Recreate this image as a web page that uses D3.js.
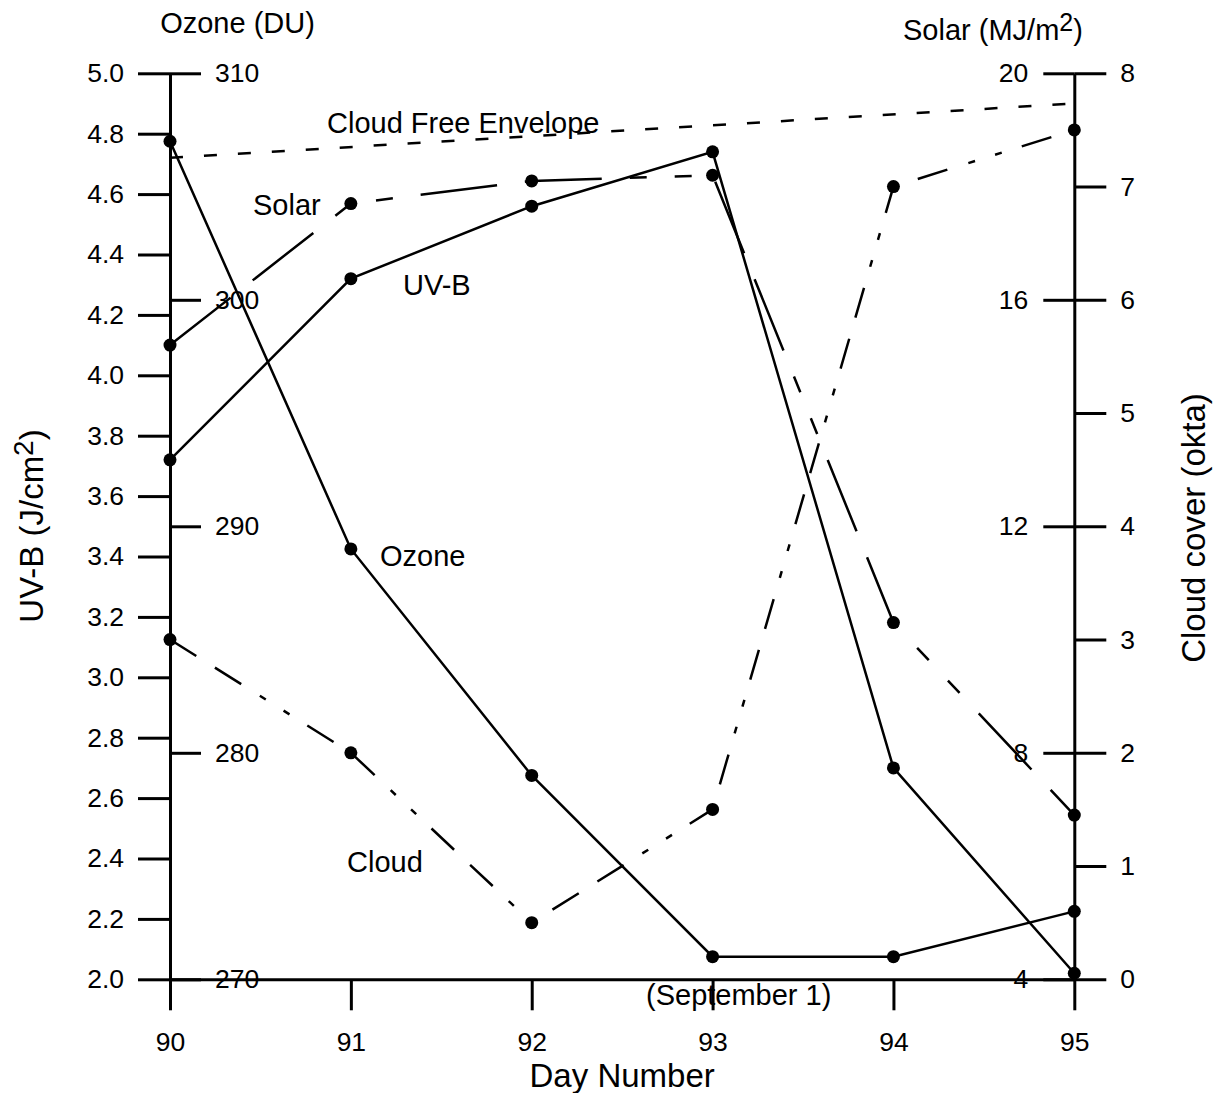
<!DOCTYPE html>
<html>
<head>
<meta charset="utf-8">
<script src="https://cdn.jsdelivr.net/npm/d3@7"></script>
<style>
  html, body { margin: 0; padding: 0; background: #fff; }
  svg { display: block; font-family: "Liberation Sans", Arial, Helvetica, sans-serif; }
</style>
</head>
<body>
<svg id="chart" width="1221" height="1093"></svg>
<script>
// ---- data ----
const days = [90, 91, 92, 93, 94, 95];
const uvb = [3.72, 4.32, 4.56, 4.74, 2.70, 2.02];
const ozone = [307, 289, 279, 271, 271, 273];
const solar = [15.2, 17.7, 18.1, 18.2, 10.3, 6.9];
const cloud = [3.0, 2.0, 0.5, 1.5, 7.0, 7.5];
const envelopeDays = [90, 95];
const envelopeUVB = [4.72, 4.90];

// ---- tick labels ----
const dayTicks = [90, 91, 92, 93, 94, 95];
const uvbTicks = [2.0, 2.2, 2.4, 2.6, 2.8, 3.0, 3.2, 3.4, 3.6, 3.8, 4.0, 4.2, 4.4, 4.6, 4.8, 5.0];
const ozoneTicks = [270, 280, 290, 300, 310];
const solarTicks = [4, 8, 12, 16, 20];
const cloudTicks = [0, 1, 2, 3, 4, 5, 6, 7, 8];

// ---- layout ----
const L = 170, R = 1074.3, T = 73.3, B = 979.3;
const svg = d3.select("#chart");

const x = d3.scaleLinear().domain([90, 95]).range([L, R]);
const yU = d3.scaleLinear().domain([2, 5]).range([B, T]);
const yO = d3.scaleLinear().domain([270, 310]).range([B, T]);
const yS = d3.scaleLinear().domain([4, 20]).range([B, T]);
const yC = d3.scaleLinear().domain([0, 8]).range([B, T]);

function styleAxis(g, size) {
  g.attr("font-family", null).attr("font-size", null);
  g.selectAll("path, line").attr("stroke", "#000").attr("stroke-width", 3);
  g.selectAll("text").attr("fill", "#000").style("font-size", size + "px");
}

// X axis
svg.append("g").attr("transform", `translate(0,${B})`)
  .call(d3.axisBottom(x).tickValues(dayTicks).tickFormat(d3.format("d"))
    .tickSize(31).tickSizeOuter(0).tickPadding(22))
  .call(g => styleAxis(g, 26.5));

// Left UV-B axis
svg.append("g").attr("transform", `translate(${L},0)`)
  .call(d3.axisLeft(yU).tickValues(uvbTicks).tickFormat(d3.format(".1f"))
    .tickSize(32).tickSizeOuter(0).tickPadding(14))
  .call(g => styleAxis(g, 26.5));

// Ozone axis (inside, on left spine)
svg.append("g").attr("transform", `translate(${L},0)`)
  .call(d3.axisRight(yO).tickValues(ozoneTicks).tickFormat(d3.format("d"))
    .tickSize(31).tickSizeOuter(0).tickPadding(14))
  .call(g => { g.select(".domain").remove(); styleAxis(g, 26.5); });

// Solar axis (inside, on right spine)
svg.append("g").attr("transform", `translate(${R},0)`)
  .call(d3.axisLeft(yS).tickValues(solarTicks).tickFormat(d3.format("d"))
    .tickSize(31).tickSizeOuter(0).tickPadding(15))
  .call(g => styleAxis(g, 26.5));

// Cloud axis (outside right)
svg.append("g").attr("transform", `translate(${R},0)`)
  .call(d3.axisRight(yC).tickValues(cloudTicks).tickFormat(d3.format("d"))
    .tickSize(32).tickSizeOuter(0).tickPadding(14))
  .call(g => { g.select(".domain").remove(); styleAxis(g, 26.5); });

// ---- series ----
function series(vals, yScale, dash, markers) {
  const pts = days.map((d, i) => [x(d), yScale(vals[i])]);
  svg.append("path")
    .attr("d", d3.line()(pts))
    .attr("fill", "none").attr("stroke", "#000").attr("stroke-width", 2.5)
    .attr("stroke-dasharray", dash || null);
  if (markers) {
    svg.append("g").selectAll("circle").data(pts).join("circle")
      .attr("cx", p => p[0]).attr("cy", p => p[1]).attr("r", 6.5).attr("fill", "#000");
  }
}

// Envelope
svg.append("path")
  .attr("d", d3.line()(envelopeDays.map((d, i) => [x(d), yU(envelopeUVB[i])])))
  .attr("fill", "none").attr("stroke", "#000").attr("stroke-width", 2.5)
  .attr("stroke-dasharray", "13,21");

series(uvb, yU, null, true);
series(ozone, yO, null, true);
series(solar, yS, "77,28,77,28,17,28,17,28", true);
series(cloud, yC, "31,22,31,22,7,21,7,21", true);

// ---- texts ----
function txt(s, xx, yy, size, anchor) {
  return svg.append("text").attr("x", xx).attr("y", yy)
    .attr("font-size", size).attr("text-anchor", anchor || "start").attr("fill", "#000").text(s);
}
txt("Cloud Free Envelope", 327, 132.5, 29);
txt("Solar", 253, 215, 29);
txt("UV-B", 403, 295, 29);
txt("Ozone", 380, 566, 29);
txt("Cloud", 347, 872, 29);
txt("(September 1)", 646, 1005, 29);

txt("Ozone (DU)", 237.5, 33, 29, "middle");

const st = txt("Solar (MJ/m", 903, 40, 29);
st.append("tspan").attr("dy", -9).attr("font-size", 25).text("2");
st.append("tspan").attr("dy", 9).text(")");

txt("Day Number", (L + R) / 2, 1087, 33, "middle");

const ut = svg.append("text").attr("transform", `translate(43,526) rotate(-90)`)
  .attr("text-anchor", "middle").attr("font-size", 33).attr("fill", "#000");
ut.append("tspan").text("UV-B (J/cm");
ut.append("tspan").attr("dy", -10).attr("font-size", 28).text("2");
ut.append("tspan").attr("dy", 10).text(")");

svg.append("text").attr("transform", `translate(1205,528) rotate(-90)`)
  .attr("text-anchor", "middle").attr("font-size", 33).attr("fill", "#000")
  .text("Cloud cover (okta)");
</script>
</body>
</html>
